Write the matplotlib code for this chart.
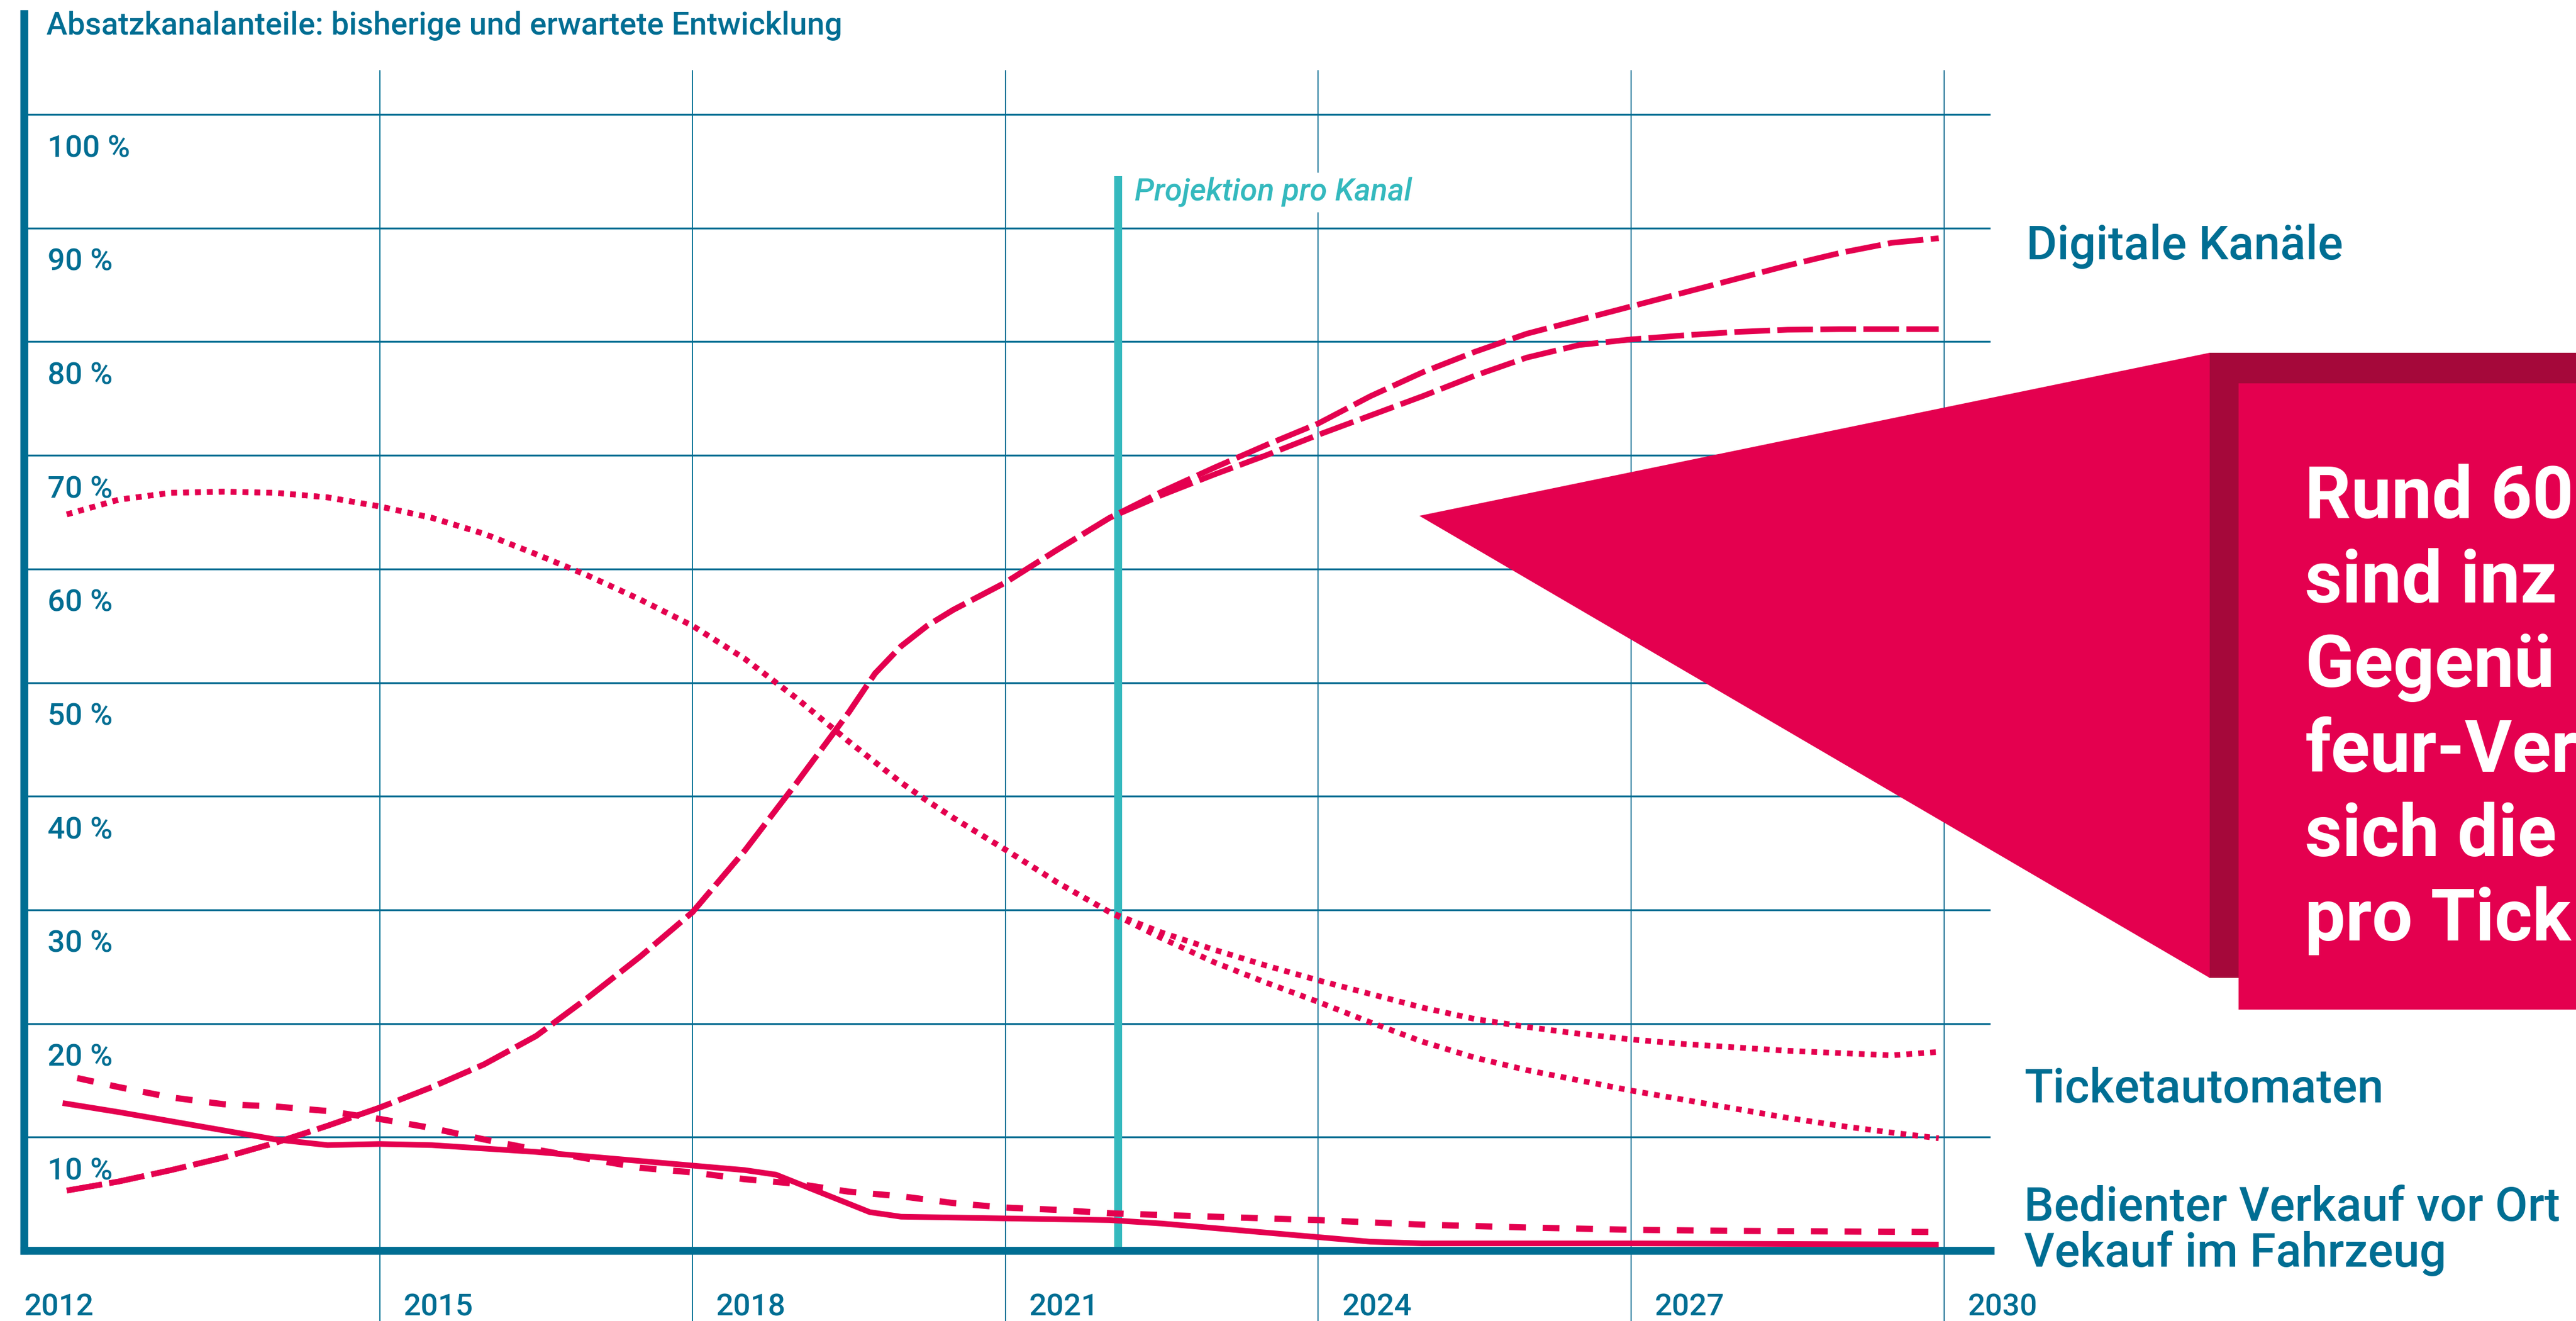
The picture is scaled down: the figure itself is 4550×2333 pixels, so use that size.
import matplotlib
matplotlib.use("Agg")
import matplotlib.pyplot as plt
from matplotlib.patches import Polygon, Rectangle

plt.rcParams['font.family'] = ['Roboto', 'DejaVu Sans']

BLUE = '#006E93'
PINK = '#E4004F'
DARK = '#A5083A'
TEAL = '#34B9BE'

W, H = 4550, 2333

# Jahre bis zur Projektion (gemeinsamer Verlauf) und danach
hist_years = [2012.0, 2012.5, 2013.0, 2013.5, 2014.0, 2014.5, 2015.0, 2015.5,
              2016.0, 2016.5, 2017.0, 2017.5, 2018.0, 2018.5, 2019.0, 2019.5,
              2019.75, 2020.0, 2020.25, 2020.5, 2021.0, 2021.5, 2022.0]
proj_years = [2022.5, 2023.0, 2023.5, 2024.0, 2024.5, 2025.0, 2025.5, 2026.0,
              2026.5, 2027.0, 2027.5, 2028.0, 2028.5, 2029.0, 2029.5, 2029.95]

# Digitale Kanäle
digital_hist = [5.3, 6.1, 7.1, 8.2, 9.5, 11.0, 12.6, 14.4, 16.4, 18.9, 22.3,
                25.9, 29.8, 35.2, 41.2, 47.4, 50.8, 53.2, 55.0, 56.4, 58.8,
                61.7, 64.5]
digital_high = [66.8, 68.9, 70.9, 72.8, 75.2, 77.3, 79.1, 80.7, 81.9, 83.1,
                84.3, 85.5, 86.7, 87.8, 88.7, 89.1]
digital_low = [66.5, 68.3, 70.0, 71.8, 73.5, 75.2, 77.0, 78.6, 79.7, 80.2,
               80.55, 80.85, 81.05, 81.1, 81.1, 81.1]

# Ticketautomaten
ticket_hist = [64.8, 66.1, 66.7, 66.8, 66.7, 66.3, 65.5, 64.5, 63.1, 61.3, 59.4,
               57.3, 55.0, 52.1, 48.6, 44.8, 43.0, 41.2, 39.6, 38.1, 35.3,
               32.4, 29.8]
ticket_high = [28.0, 26.5, 25.1, 23.8, 22.6, 21.4, 20.4, 19.7, 19.1, 18.6,
               18.2, 17.9, 17.6, 17.4, 17.2, 17.5]
ticket_low = [27.5, 25.4, 23.6, 21.9, 20.1, 18.4, 17.0, 15.9, 15.0, 14.1,
              13.3, 12.5, 11.7, 11.0, 10.4, 9.9]

# Bedienter Verkauf vor Ort
counter_years = [2012.1, 2012.5, 2013.0, 2013.5, 2014.0, 2014.5, 2015.0, 2015.5,
                 2016.0, 2016.5, 2017.0, 2017.5, 2018.0, 2018.5, 2019.0, 2019.5,
                 2020.0, 2020.5, 2021.0, 2021.5, 2022.0, 2023.0, 2024.0, 2025.0,
                 2026.0, 2027.0, 2028.0, 2029.0, 2029.95]
counter = [15.2, 14.4, 13.5, 12.9, 12.7, 12.3, 11.6, 10.8, 9.8, 8.9, 8.1, 7.3,
           6.9, 6.3, 5.9, 5.2, 4.8, 4.2, 3.8, 3.6, 3.3, 3.0, 2.7, 2.3, 2.05,
           1.85, 1.75, 1.7, 1.65]

# Verkauf im Fahrzeug
vehicle_years = [2011.96, 2012.5, 2013.0, 2013.5, 2014.0, 2014.5, 2015.0, 2015.5,
                 2016.0, 2016.5, 2017.0, 2017.5, 2018.0, 2018.5, 2018.8, 2019.1,
                 2019.4, 2019.7, 2020.0, 2021.0, 2022.0, 2022.5, 2023.0, 2023.5,
                 2024.0, 2024.5, 2025.0, 2027.0, 2029.95]
vehicle = [13.0, 12.2, 11.4, 10.6, 9.8, 9.3, 9.4, 9.3, 9.0, 8.7, 8.3, 7.9, 7.5,
           7.1, 6.7, 5.6, 4.5, 3.4, 3.0, 2.85, 2.7, 2.4, 2.0, 1.6, 1.2, 0.8,
           0.65, 0.65, 0.55]

pct_ticks = [10, 20, 30, 40, 50, 60, 70, 80, 90, 100]
pct_labels = ['10 %', '20 %', '30 %', '40 %', '50 %', '60 %', '70 %', '80 %', '90 %', '100 %']
year_ticks = [2012, 2015, 2018, 2021, 2024, 2027, 2030]
projection_year = 2022.08

title = 'Absatzkanalanteile: bisherige und erwartete Entwicklung'
channel_labels = ['Digitale Kanäle', 'Ticketautomaten',
                  'Bedienter Verkauf vor Ort', 'Vekauf im Fahrzeug']
# sichtbarer Ausschnitt des Kastentexts (rechts vom Bildrand beschnitten)
box_lines = ['Rund 60', 'sind inz', 'Gegenü', 'feur-Ver', 'sich die', 'pro Tick']

fig = plt.figure(figsize=(W / 100, H / 100), dpi=100)
ax = fig.add_axes([43 / W, (H - 2209) / H, (3516 - 43) / W, (2209 - 25) / H])

x0 = 2012 + (43 - 118) / 184.2
x1 = 2012 + (3516 - 118) / 184.2
ax.set_xlim(x0, x1)
ax.set_ylim(0, (2209 - 25) / 20.07)

for s in ['top', 'right']:
    ax.spines[s].set_visible(False)
for s in ['left', 'bottom']:
    ax.spines[s].set_linewidth(10)
    ax.spines[s].set_color(BLUE)
    ax.spines[s].set_capstyle('projecting')
ax.set_xticks([])
ax.set_yticks([])

# Raster
for p in pct_ticks:
    ax.axhline(p, color=BLUE, lw=2.4, zorder=1)
grid_top = (2209 - 124) / 20.07
grid_bottom = (2209 - H - 5) / 20.07
for yr in year_ticks[1:]:
    ax.plot([yr, yr], [grid_bottom, grid_top], color=BLUE, lw=1.4,
            clip_on=False, zorder=1, solid_capstyle='butt')

# Projektionslinie
ax.plot([projection_year, projection_year], [0, (2209 - 311) / 20.07],
        color=TEAL, lw=10, solid_capstyle='butt', zorder=2)
ax.text(projection_year + 0.16, (2209 - 355) / 20.07, 'Projektion pro Kanal',
        color=TEAL, fontsize=40, style='italic', fontweight='medium',
        va='baseline', ha='left', zorder=3,
        bbox=dict(facecolor='white', edgecolor='none', pad=6))

# Linien
lw = 7.2
ax.plot(hist_years + proj_years, digital_hist + digital_high, color=PINK, lw=lw,
        ls=(0, (6.3, 1.3)), dash_capstyle='butt', zorder=4)
ax.plot(hist_years + proj_years, digital_hist + digital_low, color=PINK, lw=lw,
        ls=(0, (6.3, 1.3)), dash_capstyle='butt', zorder=4)
ax.plot(hist_years + proj_years, ticket_hist + ticket_high, color=PINK, lw=lw,
        ls=(0, (1.0, 1.1)), dash_capstyle='butt', zorder=4)
ax.plot(hist_years + proj_years, ticket_hist + ticket_low, color=PINK, lw=lw,
        ls=(0, (1.0, 1.1)), dash_capstyle='butt', zorder=4)
ax.plot(counter_years, counter, color=PINK, lw=7.9,
        ls=(0, (2.7, 2.7)), dash_capstyle='butt', zorder=4)
ax.plot(vehicle_years, vehicle, color=PINK, lw=lw, solid_capstyle='butt',
        solid_joinstyle='round', zorder=4)

# Achsenbeschriftung
for p, lab in zip(pct_ticks, pct_labels):
    ax.text(2012 + (84 - 118) / 184.2, p - 3.74, lab, color=BLUE, fontsize=39,
            fontweight='medium', va='baseline', ha='left', zorder=5)
for yr in year_ticks:
    xpos = x0 if yr == 2012 else yr + 0.228
    ax.text(xpos, (2209 - 2323) / 20.07, str(yr), color=BLUE, fontsize=39,
            fontweight='medium', va='baseline', ha='left', clip_on=False)

# Overlay in Pixelkoordinaten
ov = fig.add_axes([0, 0, 1, 1], zorder=10)
ov.set_xlim(0, W)
ov.set_ylim(H, 0)
ov.axis('off')

ov.text(82, 61, title, color=BLUE, fontsize=40, fontweight='medium',
        va='baseline', ha='left')

label_pos = [(3579, 458), (3575, 1947), (3575, 2156), (3575, 2237)]
for (lx, ly), lab in zip(label_pos, channel_labels):
    ov.text(lx, ly, lab, color=BLUE, fontsize=60, fontweight='medium',
            va='baseline', ha='left')

# Callout
ov.add_patch(Rectangle((3902, 623), W - 3902, 1727 - 623, facecolor=DARK,
                       edgecolor='none'))
ov.add_patch(Rectangle((3954, 677), W - 3954, 1783 - 677, facecolor=PINK,
                       edgecolor='none'))
ov.add_patch(Polygon([(2507, 911), (3903, 623), (3903, 1727)], closed=True,
                     facecolor=PINK, edgecolor='none'))
for i, line in enumerate(box_lines):
    ov.text(4071, 915 + i * 149.2, line, color='white', fontsize=92,
            fontweight='bold', va='baseline', ha='left')

fig.savefig('out.png', dpi=100, facecolor='white')
